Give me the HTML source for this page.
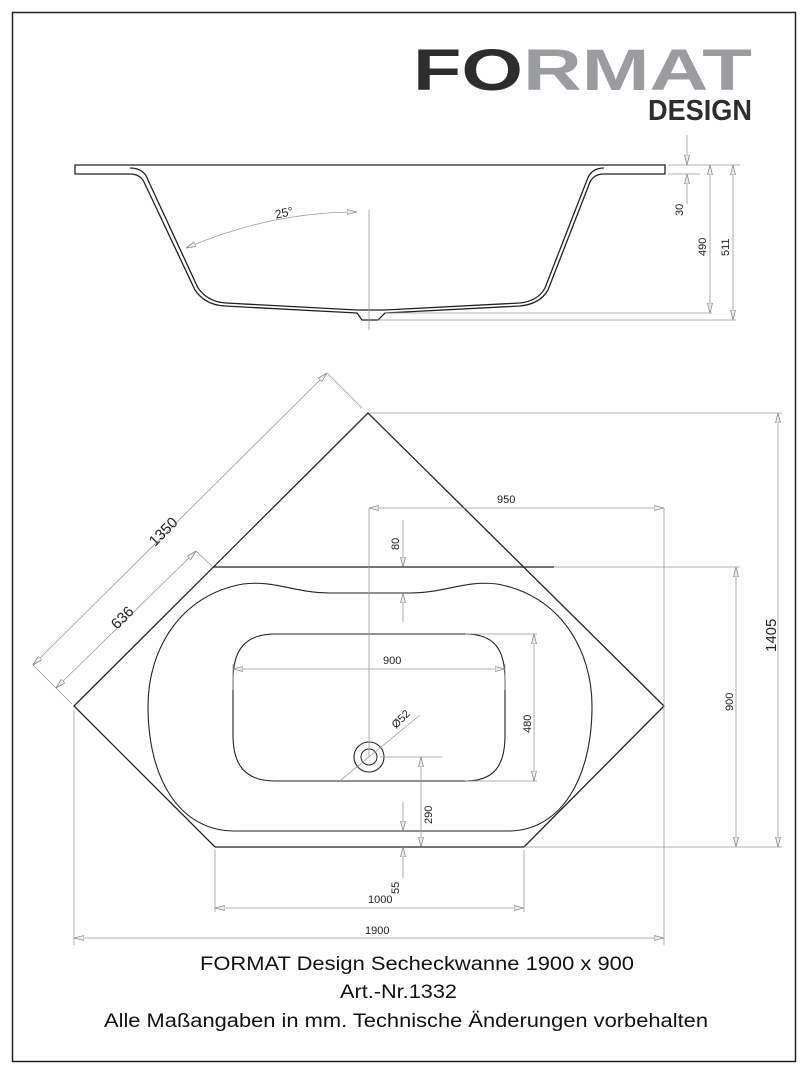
<!DOCTYPE html>
<html><head><meta charset="utf-8"><style>
html,body{margin:0;padding:0;background:#fff}
svg{display:block}
text{font-family:"Liberation Sans",Arial,sans-serif}
</style></head><body>
<svg width="808" height="1080" viewBox="0 0 808 1080" xmlns="http://www.w3.org/2000/svg">
<defs>
<marker id="a" viewBox="0 0 10 6" refX="10" refY="3" markerWidth="10" markerHeight="6" orient="auto-start-reverse" markerUnits="userSpaceOnUse">
<path d="M0,0.5 L10,3 L0,5.5 Z" fill="#eee" stroke="#888" stroke-width="0.8"/>
</marker>
</defs>
<rect x="12.5" y="12.5" width="783" height="1049" fill="none" stroke="#222" stroke-width="1.5"/>

<!-- logo -->
<text x="413" y="90" font-size="58" font-weight="bold" fill="#2d2d2d" textLength="110" lengthAdjust="spacingAndGlyphs">FO</text>
<text x="523" y="90" font-size="58" font-weight="bold" fill="#9a9ca0" textLength="229" lengthAdjust="spacingAndGlyphs">RMAT</text>
<text x="648" y="120" font-size="29" font-weight="bold" fill="#2d2d2d" textLength="104" lengthAdjust="spacingAndGlyphs">DESIGN</text>

<!-- side view -->
<g fill="none" stroke="#222" stroke-width="1.3">
<path d="M665,165 L75,165 L75,174 L130,174 Q140,174 144,182 L195,290 Q205,305 225,306 L357,313 L362,320 L378,320 L385,313 L520,306 Q540,304 548,290 L590,182 Q594,174 604,174 L665,174 Z"/>
<path d="M130,168 Q144,168 148,180 L198,288 Q208,302 226,303 L357,310 L385,310 L520,303 Q538,301 545,288 L587,180 Q591,168 604,168"/>
</g>
<g stroke="#999" stroke-width="0.8" fill="none">
<line x1="369" y1="210" x2="369" y2="330"/>
<path d="M186,248 Q270,212 357,212" marker-start="url(#a)" marker-end="url(#a)"/>
<line x1="668" y1="165" x2="740" y2="165"/>
<line x1="668" y1="174" x2="700" y2="174"/>
<line x1="687" y1="135" x2="687" y2="165" marker-end="url(#a)"/>
<line x1="687" y1="204" x2="687" y2="174" marker-end="url(#a)"/>
<line x1="710" y1="165" x2="710" y2="313" marker-start="url(#a)" marker-end="url(#a)"/>
<line x1="385" y1="313" x2="712" y2="313"/>
<line x1="733" y1="165" x2="733" y2="320" marker-start="url(#a)" marker-end="url(#a)"/>
<line x1="378" y1="320" x2="736" y2="320"/>
</g>
<g font-size="11" fill="#222">
<text x="275" y="217" font-size="12" transform="rotate(-12 283 213)">25°</text>
<text transform="translate(683,216) rotate(-90)">30</text>
<text transform="translate(706,256) rotate(-90)">490</text>
<text transform="translate(729,256) rotate(-90)">511</text>
</g>

<!-- top view -->
<g fill="none" stroke="#222" stroke-width="1.3">
<path d="M368,413 L664,706 L524,847 L215,847 L74,706 Z"/>
<line x1="213" y1="567" x2="554" y2="567"/>
<path d="M243,584 C275,580 295,593 330,593 L410,593 C445,593 465,580 497,584 C560,595 592,650 592,706 C592,780 560,830 510,831 L233,831 C180,830 148,780 148,706 C148,650 180,595 243,584 Z" stroke-width="1.1"/>
<path d="M275,634 L465,634 C495,634 505,650 505,680 L505,735 C505,765 495,781 465,781 L275,781 C245,781 233,765 233,735 L233,680 C233,650 245,634 275,634 Z" stroke-width="1.1"/>
<circle cx="369" cy="757" r="15" stroke-width="1.1"/>
<circle cx="369" cy="757" r="8" stroke-width="1"/>
</g>
<g stroke="#999" stroke-width="0.8" fill="none">
<line x1="369" y1="508" x2="369" y2="757"/>
<line x1="369" y1="508" x2="664" y2="508" marker-start="url(#a)" marker-end="url(#a)"/>
<line x1="664" y1="508" x2="664" y2="945"/>
<line x1="370" y1="413" x2="782" y2="413"/>
<line x1="554" y1="567" x2="740" y2="567"/>
<line x1="524" y1="847" x2="782" y2="847"/>
<line x1="778" y1="413" x2="778" y2="847" marker-start="url(#a)" marker-end="url(#a)"/>
<line x1="736" y1="567" x2="736" y2="847" marker-start="url(#a)" marker-end="url(#a)"/>
<line x1="403" y1="520" x2="403" y2="567" marker-end="url(#a)"/>
<line x1="403" y1="622" x2="403" y2="593" marker-end="url(#a)"/>
<line x1="233" y1="669" x2="505" y2="669" marker-start="url(#a)" marker-end="url(#a)"/>
<line x1="233" y1="664" x2="233" y2="690"/>
<line x1="505" y1="664" x2="505" y2="690"/>
<line x1="465" y1="634" x2="537" y2="634"/>
<line x1="465" y1="781" x2="537" y2="781"/>
<line x1="534" y1="634" x2="534" y2="781" marker-start="url(#a)" marker-end="url(#a)"/>
<line x1="380" y1="757" x2="442" y2="757"/>
<line x1="421" y1="757" x2="421" y2="847" marker-start="url(#a)" marker-end="url(#a)"/>
<line x1="403" y1="802" x2="403" y2="831" marker-end="url(#a)"/>
<line x1="403" y1="878" x2="403" y2="847" marker-end="url(#a)"/>
<line x1="341" y1="780" x2="420" y2="715"/>
<line x1="215" y1="850" x2="215" y2="912"/>
<line x1="524" y1="850" x2="524" y2="912"/>
<line x1="215" y1="908" x2="524" y2="908" marker-start="url(#a)" marker-end="url(#a)"/>
<line x1="74" y1="710" x2="74" y2="945"/>
<line x1="74" y1="938" x2="664" y2="938" marker-start="url(#a)" marker-end="url(#a)"/>
<line x1="33" y1="665" x2="327" y2="373" marker-start="url(#a)" marker-end="url(#a)"/>
<line x1="327" y1="373" x2="362" y2="408"/>
<line x1="33" y1="665" x2="72" y2="704"/>
<line x1="56" y1="688" x2="196" y2="551" marker-start="url(#a)" marker-end="url(#a)"/>
<line x1="196" y1="551" x2="213" y2="567"/>
</g>
<g font-size="11" fill="#222">
<text x="497" y="503">950</text>
<text transform="translate(399,550) rotate(-90)">80</text>
<text x="383" y="664">900</text>
<text transform="translate(531,733) rotate(-90)">480</text>
<text transform="translate(396,729) rotate(-45)">Ø52</text>
<text transform="translate(432,824) rotate(-90)">290</text>
<text transform="translate(399,894) rotate(-90)">55</text>
<text x="368" y="903">1000</text>
<text x="365" y="934">1900</text>
<text transform="translate(733,711) rotate(-90)">900</text>
<text transform="translate(776,652) rotate(-90)" font-size="15">1405</text>
<text transform="translate(155,547) rotate(-45)" font-size="15">1350</text>
<text transform="translate(117,630) rotate(-45)" font-size="15">636</text>
</g>

<g font-size="19" fill="#111">
<text x="200" y="970" textLength="434" lengthAdjust="spacingAndGlyphs">FORMAT Design Secheckwanne  1900 x 900</text>
<text x="340" y="998" textLength="117" lengthAdjust="spacingAndGlyphs">Art.-Nr.1332</text>
<text x="104" y="1027" textLength="604" lengthAdjust="spacingAndGlyphs">Alle Maßangaben in mm. Technische Änderungen vorbehalten</text>
</g>
</svg>
</body></html>
